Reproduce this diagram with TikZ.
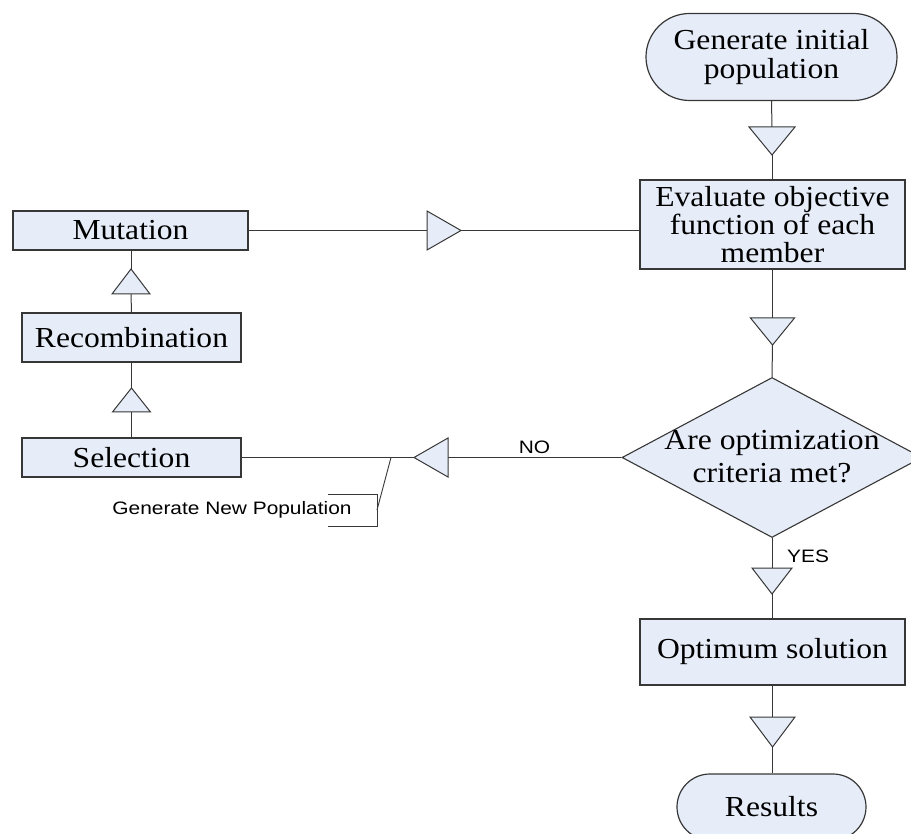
\documentclass[tikz,border=0pt]{standalone}
\usepackage{fontspec}
\setmainfont{Liberation Serif}[FakeStretch=1.09]
\newfontfamily\labelsans{Liberation Sans}[FakeStretch=1.16]
\usetikzlibrary{shapes.geometric}
\definecolor{boxfill}{RGB}{230,236,248}
\definecolor{edge}{RGB}{55,55,55}

% hollow flow triangle: name, x, y of base centre, rotation, half width, length
\newcommand{\flowtri}[6]{%
  \begin{scope}[shift={(#2,#3)}, rotate=#4]
    \coordinate (#1-b) at (0,0);
    \coordinate (#1-t) at (#6,0);
    \filldraw[tri] (0,#5) -- (#6,0) -- (0,-#5) -- cycle;
  \end{scope}}

\tikzset{
  procbox/.style={draw=edge, fill=boxfill, line width=1.2pt, inner sep=0pt,
    font=\fontsize{29}{28}\selectfont, align=center},
  terminal/.style={procbox, rounded corners=#1},
  decision/.style={draw=edge, fill=boxfill, line width=1.1pt, diamond, inner sep=0pt},
  tri/.style={draw=edge, fill=boxfill, line width=1pt, line join=miter},
  link/.style={draw=edge, line width=1pt},
  smalltext/.style={font=\labelsans\fontsize{18}{18}\selectfont, inner sep=0pt}
}

\begin{document}
\begin{tikzpicture}[x=1pt, y=-1pt]
\useasboundingbox (0,0) rectangle (911,834);
\clip (0,0) rectangle (911,834);

% main column
\node[terminal=43.5pt, minimum width=251pt, minimum height=87pt,
      font=\fontsize{29}{29}\selectfont] (start) at (771.5,57) {Generate initial\\population};
\node[procbox, minimum width=265pt, minimum height=89pt] (eval) at (772.5,224.5)
  {Evaluate objective\\function of each\\member};
\node[decision, minimum width=300pt, minimum height=160pt] (crit) at (772,457.5) {};
\node[font=\fontsize{29}{33}\selectfont, align=center, inner sep=0pt] (crittext) at (772,457)
  {Are optimization\\criteria met?};
\node[procbox, minimum width=265pt, minimum height=66pt] (opt) at (772.5,652) {Optimum solution};
\node[terminal=33pt, minimum width=189pt, minimum height=66pt] (res) at (771.5,807) {Results};

% left column
\node[procbox, minimum width=235pt, minimum height=39pt] (mut) at (130.5,230.5) {Mutation};
\node[procbox, minimum width=219pt, minimum height=49pt] (rec) at (131.5,337.5) {Recombination};
\node[procbox, minimum width=219pt, minimum height=39pt] (sel) at (131.5,457.5) {Selection};

% connectors
\path[link] (start.south) -- (772,127);
\flowtri{ta}{772}{127}{-90}{23}{28}
\path[link] (ta-t) -- (eval.north -| ta-t);
\path[link] (eval.south) -- (772.5,318);
\flowtri{tb}{772.5}{318}{-90}{22}{27}
\path[link] (tb-t) -- (crit.north);

\path[link] (crit.south) -- (772,568);
\flowtri{tc}{772}{568}{-90}{20}{26}
\path[link] (tc-t) -- (opt.north -| tc-t);
\path[link] (opt.south) -- (772.5,717);
\flowtri{td}{772.5}{717}{-90}{22.5}{30}
\path[link] (td-t) -- (res.north -| td-t);

\path[link] (crit.west) -- (448,457.5);
\flowtri{te}{448}{457.5}{180}{19.5}{34}
\path[link] (te-t) -- (sel.east);

\path[link] (sel.north) -- (131.5,412);
\flowtri{tf}{131.5}{412}{90}{19}{24}
\path[link] (tf-t) -- (rec.south);
\path[link] (rec.north) -- (131,294);
\flowtri{tg}{131}{294}{90}{19}{25}
\path[link] (tg-t) -- (mut.south -| tg-t);

\path[link] (mut.east) -- (427,230.5);
\flowtri{th}{427}{230.5}{0}{19.5}{34}
\path[link] (th-t) -- (th-t -| eval.west);

% branch labels
\node[smalltext] (nolbl) at (534.5,447) {NO};
\node[smalltext, anchor=west] (yeslbl) at (787,556) {YES};

% annotation on the return path
\coordinate (tap) at (391,457.5);
\coordinate (brk) at (377,510);
\path[link, line width=0.9pt] (328,494) -- (377,494) -- (377,526) -- (328,526);
\path[link, line width=0.9pt] (tap) -- (brk);
\node[smalltext] (gnp) at (232,510) {Generate New Population};
\end{tikzpicture}
\end{document}
